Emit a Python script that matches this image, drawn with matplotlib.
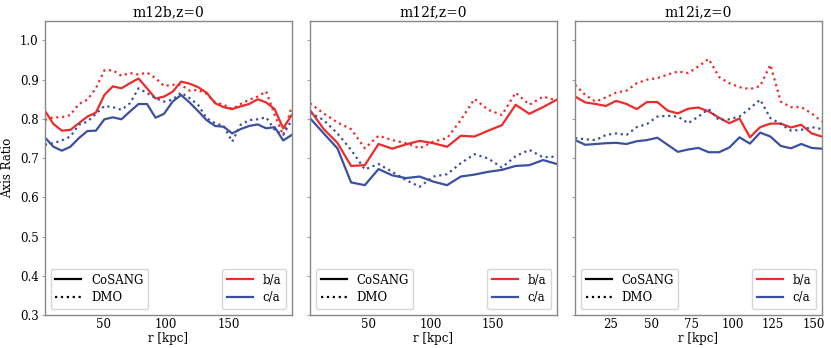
import matplotlib.pyplot as plt
from matplotlib.lines import Line2D
import numpy as np

plt.rcParams['font.family'] = 'DejaVu Serif'

# radios (kpc) de cada halo
r_m12b = [3.0, 9.8, 16.6, 23.4, 30.2, 37.0, 43.8, 50.6, 57.4, 64.2,
          71.1, 77.9, 84.7, 91.5, 98.3, 105.1, 111.9, 118.7, 125.5, 132.3,
          139.2, 146.0, 152.8, 159.6, 166.4, 173.2, 180.0, 186.8, 193.6, 200.4]
r_m12f = [3.0, 14.0, 25.0, 36.0, 47.0, 58.0, 69.0, 80.0, 91.0, 102.0,
          113.0, 124.0, 135.0, 146.0, 157.0, 168.0, 179.0, 190.0, 201.0]
r_m12i = [3.0, 9.3, 15.7, 22.0, 28.3, 34.7, 41.0, 47.3, 53.7, 60.0,
          66.3, 72.7, 79.0, 85.3, 91.7, 98.0, 104.3, 110.7, 117.0, 123.3,
          129.7, 136.0, 142.3, 148.7, 155.0]

# m12b
ba_cosang_b = [0.821, 0.787, 0.770, 0.772, 0.789, 0.806, 0.816, 0.861, 0.883, 0.878,
               0.891, 0.903, 0.878, 0.852, 0.857, 0.869, 0.895, 0.890, 0.881, 0.867,
               0.840, 0.830, 0.825, 0.832, 0.838, 0.850, 0.842, 0.825, 0.776, 0.810]
ba_dmo_b = [0.797, 0.804, 0.804, 0.810, 0.838, 0.849, 0.878, 0.924, 0.924, 0.910,
            0.917, 0.913, 0.918, 0.904, 0.884, 0.887, 0.887, 0.872, 0.874, 0.864,
            0.842, 0.836, 0.825, 0.838, 0.849, 0.857, 0.870, 0.810, 0.759, 0.830]
ca_cosang_b = [0.753, 0.729, 0.719, 0.729, 0.751, 0.769, 0.770, 0.799, 0.804, 0.799,
               0.819, 0.838, 0.838, 0.803, 0.813, 0.844, 0.861, 0.842, 0.820, 0.797,
               0.782, 0.780, 0.763, 0.774, 0.782, 0.786, 0.776, 0.779, 0.745, 0.759]
ca_dmo_b = [0.734, 0.738, 0.745, 0.755, 0.785, 0.793, 0.813, 0.833, 0.830, 0.823,
            0.840, 0.878, 0.866, 0.853, 0.844, 0.849, 0.867, 0.853, 0.836, 0.802,
            0.789, 0.782, 0.742, 0.785, 0.797, 0.799, 0.804, 0.772, 0.759, 0.797]

# m12f
ba_cosang_f = [0.823, 0.774, 0.739, 0.680, 0.682, 0.736, 0.724, 0.735, 0.744, 0.738,
               0.729, 0.757, 0.755, 0.770, 0.784, 0.836, 0.813, 0.830, 0.849]
ba_dmo_f = [0.840, 0.814, 0.791, 0.774, 0.725, 0.757, 0.746, 0.738, 0.725, 0.742,
            0.751, 0.797, 0.851, 0.823, 0.810, 0.867, 0.836, 0.857, 0.847]
ca_cosang_f = [0.802, 0.763, 0.725, 0.638, 0.631, 0.672, 0.656, 0.649, 0.653, 0.640,
               0.631, 0.653, 0.658, 0.665, 0.670, 0.680, 0.682, 0.695, 0.685]
ca_dmo_f = [0.816, 0.797, 0.763, 0.721, 0.671, 0.685, 0.665, 0.644, 0.627, 0.653,
            0.659, 0.687, 0.710, 0.699, 0.676, 0.705, 0.721, 0.702, 0.704]

# m12i
ba_cosang_i = [0.857, 0.842, 0.838, 0.833, 0.846, 0.838, 0.825, 0.843, 0.843, 0.821,
               0.814, 0.826, 0.829, 0.819, 0.803, 0.789, 0.801, 0.753, 0.779, 0.788,
               0.788, 0.778, 0.785, 0.763, 0.755]
ba_dmo_i = [0.887, 0.861, 0.844, 0.855, 0.867, 0.872, 0.891, 0.900, 0.904, 0.913,
            0.921, 0.917, 0.934, 0.953, 0.907, 0.891, 0.881, 0.876, 0.884, 0.938,
            0.844, 0.830, 0.830, 0.814, 0.793]
ca_cosang_i = [0.746, 0.734, 0.736, 0.738, 0.739, 0.736, 0.743, 0.746, 0.752, 0.734,
               0.716, 0.722, 0.726, 0.715, 0.715, 0.727, 0.753, 0.737, 0.765, 0.755,
               0.731, 0.725, 0.736, 0.726, 0.724]
ca_dmo_i = [0.751, 0.748, 0.746, 0.759, 0.763, 0.759, 0.779, 0.787, 0.806, 0.808,
            0.806, 0.789, 0.806, 0.825, 0.797, 0.799, 0.806, 0.827, 0.849, 0.802,
            0.787, 0.770, 0.772, 0.779, 0.774]

halos = [
    ('m12b,z=0', r_m12b, ba_cosang_b, ba_dmo_b, ca_cosang_b, ca_dmo_b),
    ('m12f,z=0', r_m12f, ba_cosang_f, ba_dmo_f, ca_cosang_f, ca_dmo_f),
    ('m12i,z=0', r_m12i, ba_cosang_i, ba_dmo_i, ca_cosang_i, ca_dmo_i),
]

rojo = '#ee2b2b'
azul = '#3a50a2'
gris = '#888888'

fig = plt.figure(figsize=(8.31, 3.48), dpi=100)
lefts = [0.054, 0.373, 0.692]

for k, (titulo, r, ba_c, ba_d, ca_c, ca_d) in enumerate(halos):
    ax = fig.add_axes([lefts[k], 0.095, 0.297, 0.845])
    ax.plot(r, ba_c, color=rojo, lw=1.6)
    ax.plot(r, ba_d, color=rojo, lw=1.6, ls=':')
    ax.plot(r, ca_c, color=azul, lw=1.6)
    ax.plot(r, ca_d, color=azul, lw=1.6, ls=':')

    ax.set_xlim(r[0], r[-1])
    ax.set_ylim(0.3, 1.05)
    ax.set_title(titulo, fontsize=10, pad=3)
    ax.set_xlabel('r [kpc]', fontsize=8.5, labelpad=1)
    if k == 0:
        ax.set_ylabel('Axis Ratio', fontsize=8.5)
        ax.set_xticks([50, 100, 150])
    else:
        ax.set_yticklabels([])
        if k == 1:
            ax.set_xticks([50, 100, 150])
        else:
            ax.set_xticks([25, 50, 75, 100, 125, 150])
    ax.set_yticks([0.3, 0.4, 0.5, 0.6, 0.7, 0.8, 0.9, 1.0])
    ax.tick_params(labelsize=8.5, length=2.5, width=0.6, color=gris, pad=2)
    ax.tick_params(axis='x', length=0)
    for s in ax.spines.values():
        s.set_color(gris)
        s.set_linewidth(1.0)

    h1 = [Line2D([], [], color='k', lw=1.6), Line2D([], [], color='k', lw=1.6, ls=':')]
    leg1 = ax.legend(h1, ['CoSANG', 'DMO'], loc='lower left', fontsize=8.5,
                     handlelength=2.2, borderpad=0.4, labelspacing=0.4)
    ax.add_artist(leg1)
    h2 = [Line2D([], [], color=rojo, lw=1.6), Line2D([], [], color=azul, lw=1.6)]
    ax.legend(h2, ['b/a', 'c/a'], loc='lower right', fontsize=8.5,
              handlelength=2.2, borderpad=0.4, labelspacing=0.4)

plt.savefig('out.png', dpi=100)
